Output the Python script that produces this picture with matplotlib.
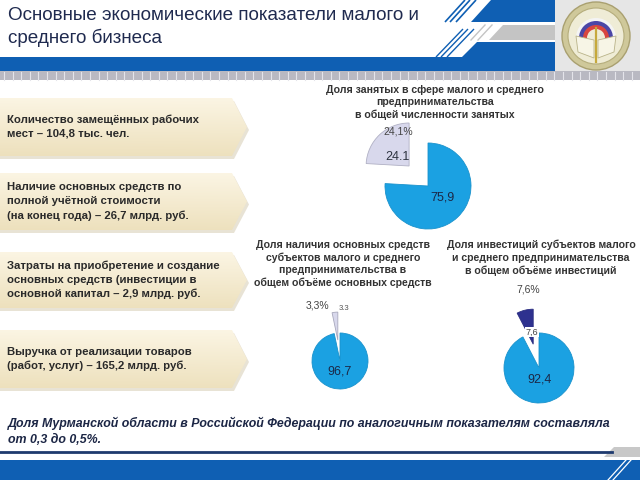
import numpy as np
import matplotlib
matplotlib.use("Agg")
import matplotlib.pyplot as plt
from matplotlib.patches import Polygon, Rectangle, Circle, Wedge

plt.rcParams['font.family'] = ['Liberation Sans', 'DejaVu Sans']

# ---------------- data ----------------
title_lines = ["Основные экономические показатели малого и", "среднего бизнеса"]
arrow_texts = [
    ["Количество замещённых рабочих", "мест – 104,8 тыс. чел."],
    ["Наличие основных средств по", "полной учётной стоимости", "(на конец года) – 26,7 млрд. руб."],
    ["Затраты на приобретение и создание", "основных средств (инвестиции в", "основной капитал – 2,9 млрд. руб."],
    ["Выручка от реализации товаров", "(работ, услуг) – 165,2 млрд. руб."],
]
pie1_title = ["Доля занятых в сфере малого и среднего", "предпринимательства", "в общей численности занятых"]
pie1_values = [75.9, 24.1]
pie1_labels = ["75,9", "24.1"]
pie1_pct = "24,1%"

pie2_title = ["Доля наличия основных средств", "субъектов малого и среднего", "предпринимательства в", "общем объёме основных средств"]
pie2_values = [96.7, 3.3]
pie2_labels = ["96,7", "3.3"]
pie2_pct = "3,3%"

pie3_title = ["Доля инвестиций субъектов малого", "и среднего предпринимательства", "в общем объёме инвестиций"]
pie3_values = [92.4, 7.6]
pie3_labels = ["92,4", "7,6"]
pie3_pct = "7,6%"

footer_lines = ["Доля Мурманской области в Российской Федерации по аналогичным показателям составляла",
                "от 0,3 до 0,5%."]

BLUE = '#0f5fb3'
PIE_BLUE = '#1ba1e2'

fig = plt.figure(figsize=(6.4, 4.8), dpi=100)
ax = fig.add_axes([0, 0, 1, 1])
ax.set_xlim(0, 640)
ax.set_ylim(480, 0)
ax.axis('off')

# ---------------- header ----------------
ax.add_patch(Rectangle((0, 57), 555, 14, color=BLUE, lw=0))
ax.add_patch(Polygon([(462, 57), (477, 42), (555, 42), (555, 57)], closed=True, color=BLUE, lw=0))
ax.add_patch(Polygon([(471, 22), (491, 0), (555, 0), (555, 22)], closed=True, color=BLUE, lw=0))
ax.add_patch(Polygon([(489, 40), (503, 25), (555, 25), (555, 40)], closed=True, color='#c4c4c4', lw=0))
for dx in (0, 6, 11):
    ax.plot([456 - dx, 476 - dx], [22, 0], color=BLUE, lw=1.2, solid_capstyle='butt')
    ax.plot([447 - dx, 474 - dx], [57, 29], color=BLUE, lw=1.0, solid_capstyle='butt')
for dx in (0, 7):
    ax.plot([478 - dx, 492 - dx], [40, 25], color='#c4c4c4', lw=1.0)

# dotted strip
ax.add_patch(Rectangle((0, 71), 640, 9, color='#b9b9c2', lw=0))
for xx in np.arange(4, 640, 8.6):
    ax.plot([xx, xx], [71.5, 79.5], color='#e4e4ea', lw=0.8)

# logo
ax.add_patch(Rectangle((555, 0), 85, 71, color='#e6e6e6', lw=0))
ax.add_patch(Circle((596, 36), 34, facecolor='#cfc89a', edgecolor='#a9a070', lw=1))
ax.add_patch(Circle((596, 36), 28, facecolor='#efecd6', edgecolor='#b5ad7c', lw=0.8))
ax.add_patch(Wedge((596, 38), 20, 180, 360, facecolor='#f4f4f4', lw=0))
ax.add_patch(Wedge((596, 38), 17, 180, 360, facecolor='#4b46a6', lw=0))
ax.add_patch(Wedge((596, 38), 13, 180, 360, facecolor='#d8463f', lw=0))
ax.add_patch(Wedge((596, 38), 9, 180, 360, facecolor='#efecd6', lw=0))
ax.add_patch(Polygon([(576, 36), (594, 40), (594, 58), (578, 52)], closed=True, facecolor='#f7f5e6', edgecolor='#b9b389', lw=0.6))
ax.add_patch(Polygon([(616, 36), (598, 40), (598, 58), (614, 52)], closed=True, facecolor='#f7f5e6', edgecolor='#b9b389', lw=0.6))
ax.plot([596, 596], [28, 62], color='#c6a93c', lw=1.6)

# title
for i, line in enumerate(title_lines):
    ax.text(8, 15 + i * 23, line, fontsize=13.6, color='#1f2a4f', va='center', ha='left')

# ---------------- arrows ----------------
arrow_boxes = [(98, 156), (173, 230), (252, 308), (330, 388)]
top_c = np.array([0.985, 0.96, 0.89])
bot_c = np.array([0.93, 0.88, 0.74])
for (t, b), lines in zip(arrow_boxes, arrow_texts):
    m = (t + b) / 2
    shadow = Polygon([(0, t + 3), (234, t + 3), (249, m + 3), (234, b + 3), (0, b + 3)], closed=True,
                     facecolor='#e3dccb', lw=0, alpha=0.8)
    ax.add_patch(shadow)
    poly = Polygon([(0, t), (232, t), (247, m), (232, b), (0, b)], closed=True, facecolor='none', lw=0)
    ax.add_patch(poly)
    n = 64
    fr = np.linspace(0, 1, n)[:, None]
    fx = np.linspace(0, 1, 32)[None, :]
    grad = top_c[None, None, :] * (1 - fr[..., None]) + bot_c[None, None, :] * fr[..., None]
    grad = grad * (1 - 0.02 * fx[..., None]) + 0.02 * fx[..., None]
    im = ax.imshow(np.clip(grad, 0, 1), extent=(0, 248, b, t), origin='upper', aspect='auto', zorder=1)
    im.set_clip_path(poly)
    nl = len(lines)
    for j, line in enumerate(lines):
        y = m + (j - (nl - 1) / 2) * 14
        ax.text(7, y, line, fontsize=8.2, fontweight='bold', color='#2a2a2a', va='center', ha='left', zorder=3)

ax.set_xlim(0, 640)
ax.set_ylim(480, 0)

# ---------------- pie titles ----------------
for i, line in enumerate(pie1_title):
    ax.text(435, 90 + i * 12.3, line, fontsize=7.6, fontweight='bold', color='#333333', ha='center', va='center')
for i, line in enumerate(pie2_title):
    ax.text(343, 245 + i * 12.7, line, fontsize=7.6, fontweight='bold', color='#333333', ha='center', va='center')
for i, line in enumerate(pie3_title):
    ax.text(541, 245 + i * 12.7, line, fontsize=7.6, fontweight='bold', color='#333333', ha='center', va='center')

# ---------------- footer ----------------
for i, line in enumerate(footer_lines):
    ax.text(8, 423 + i * 17, line, fontsize=8.9, fontweight='bold', style='italic', color='#1c2645', ha='left', va='center')
ax.plot([0, 612], [452, 452], color='#1e3a6e', lw=2)
ax.add_patch(Polygon([(604, 457), (614, 447), (640, 447), (640, 457)], closed=True, color='#c8c8c8', lw=0))
ax.add_patch(Rectangle((0, 460), 640, 20, color=BLUE, lw=0))
for dx in (0, 5):
    ax.plot([608 + dx, 626 + dx], [480, 460], color='white', lw=0.9)


# ---------------- pies ----------------
def pie_axes(cx, cy, r, W=260):
    a = fig.add_axes([(cx - W / 2) / 640, 1 - (cy + W / 2) / 480, W / 640, W / 480])
    return a, W / 2 / r


def finish(a, lim):
    a.set_xlim(-lim, lim)
    a.set_ylim(-lim, lim)
    a.axis('off')
    a.patch.set_alpha(0)


# pie 1
a1, L1 = pie_axes(428, 186, 43)
w1, _ = a1.pie(pie1_values, colors=[PIE_BLUE, '#d8d8ec'], startangle=90, counterclock=False,
               explode=[0, 0.64], radius=1,
               wedgeprops=dict(linewidth=0.6, edgecolor='#b0b0c4'))
w1[0].set_edgecolor('#1a92cc')
finish(a1, L1)
a1.text(0.33, -0.26, pie1_labels[0], fontsize=9, color='#1b2847', ha='center', va='center')
t = a1.text(-0.72, 0.67, pie1_labels[1], fontsize=9, color='#2e3440', ha='center', va='center')
t.set_clip_path(w1[1])
a1.text(-0.70, 1.26, pie1_pct, fontsize=7.5, color='#444444', ha='center', va='center')

# pie 2
a2, L2 = pie_axes(340, 361, 28)
w2, _ = a2.pie(pie2_values, colors=[PIE_BLUE, '#d8d8ec'], startangle=90, counterclock=False,
               explode=[0, 0.75], radius=1,
               wedgeprops=dict(linewidth=0.6, edgecolor='#a8a8bc'))
w2[0].set_edgecolor('#1a92cc')
finish(a2, L2)
a2.text(0.0, -0.39, pie2_labels[0], fontsize=9, color='#1b2847', ha='center', va='center')
a2.text(0.14, 1.89, pie2_labels[1], fontsize=5.5, color='#555555', ha='center', va='center')
a2.text(-0.79, 2.0, pie2_pct, fontsize=7.5, color='#444444', ha='center', va='center')

# pie 3
a3, L3 = pie_axes(539, 368, 35)
w3, _ = a3.pie(pie3_values, colors=[PIE_BLUE, '#2e318f'], startangle=90, counterclock=False,
               explode=[0, 0.7], radius=1,
               wedgeprops=dict(linewidth=0.6, edgecolor='#2a2d80'))
w3[0].set_edgecolor('#1a92cc')
finish(a3, L3)
a3.text(0.03, -0.34, pie3_labels[0], fontsize=9, color='#1b2847', ha='center', va='center')
a3.text(-0.2, 1.03, pie3_labels[1], fontsize=6.5, color='#444444', ha='center', va='center',
        bbox=dict(facecolor='white', edgecolor='none', pad=0.6))
a3.text(-0.31, 2.23, pie3_pct, fontsize=7.5, color='#444444', ha='center', va='center')

fig.savefig('out.png', dpi=100)
